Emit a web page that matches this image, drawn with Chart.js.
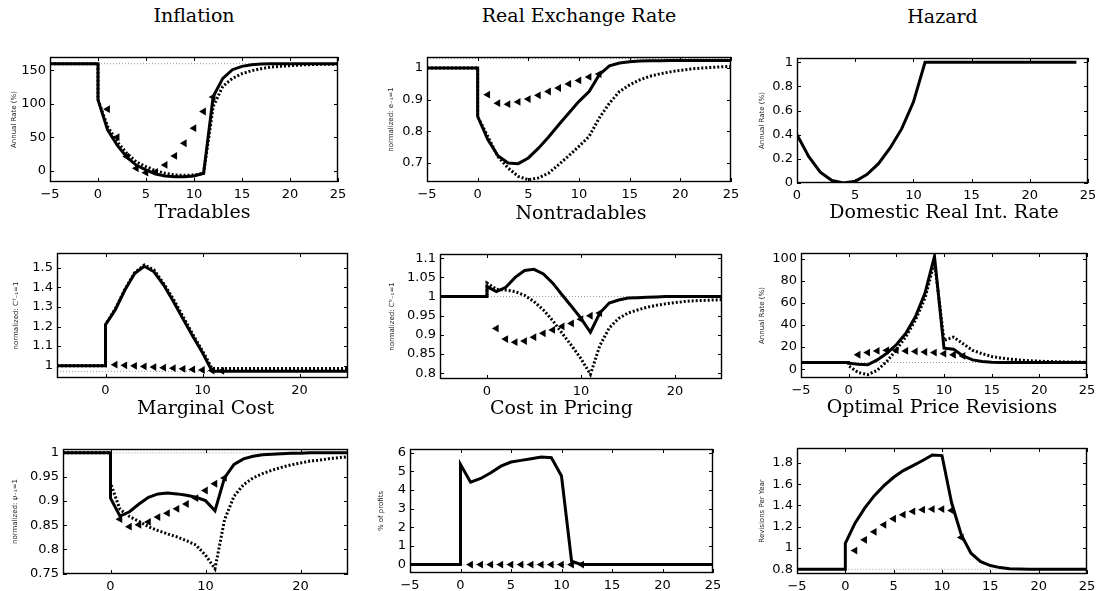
<!DOCTYPE html>
<html>
<head>
<meta charset="utf-8">
<script src="https://cdn.jsdelivr.net/npm/chart.js@4.4.0/dist/chart.umd.min.js"></script>
<style>
  body { margin: 0; background: #fff; width: 1099px; height: 591px; position: relative; overflow: hidden; }
  canvas { position: absolute; }
  .ttl { position: absolute; font-family: "DejaVu Serif", serif; font-size: 19px; color: #000;
         transform: translate(-50%, -50%); white-space: nowrap; }
</style>
</head>
<body>
<script>
// values are for periods 0..25 unless noted; "Pre" is the level before the shock (periods -5..0)
// marks are the triangle series for periods 1..12

// Inflation
const inflPre = 160;
const inflSolid = [106, 61, 38, 20, 8, 1, -5, -8, -9, -9, -8, -4, 111, 138, 151, 156, 158.5, 159.5, 160, 160, 160, 160, 160, 160, 160, 160];
const inflDotted = [106, 66, 43, 26, 13, 6, 0, -4, -6.5, -7, -6.5, -4, 96, 126, 138, 145, 149.5, 152.5, 155, 156, 157, 158, 158.5, 159, 159, 159.5];
const inflMarks = [92, 50, 21, 3.5, -3, -2, 8.5, 22, 41, 63.5, 88.5, 110];
const inflRef = 160;

// Real exchange rate
const rerPre = 1;
const rerSolid = [0.847, 0.774, 0.723, 0.70, 0.698, 0.716, 0.747, 0.782, 0.821, 0.858, 0.895, 0.926, 0.979, 1.007, 1.016, 1.02, 1.022, 1.023, 1.023, 1.024, 1.024, 1.024, 1.024, 1.024, 1.024, 1.024];
const rerDotted = [0.847, 0.784, 0.72, 0.684, 0.658, 0.647, 0.653, 0.668, 0.695, 0.723, 0.753, 0.784, 0.842, 0.889, 0.926, 0.947, 0.963, 0.974, 0.982, 0.988, 0.993, 0.997, 1.0, 1.002, 1.004, 1.005];
const rerMarks = [0.916, 0.889, 0.886, 0.893, 0.902, 0.914, 0.926, 0.937, 0.95, 0.961, 0.972, 0.981];
const rerRef = 1.03;

// Hazard (periods 0..24)
const hazard = [0.4, 0.22, 0.09, 0.02, 0, 0.015, 0.07, 0.16, 0.29, 0.45, 0.67, 1, 1, 1, 1, 1, 1, 1, 1, 1, 1, 1, 1, 1, 1];

// Tradables
const trPre = 1;
const trSolid = [1.21, 1.285, 1.387, 1.471, 1.508, 1.48, 1.412, 1.328, 1.238, 1.15, 1.066, 0.971, 0.971, 0.971, 0.971, 0.971, 0.971, 0.971, 0.971, 0.971, 0.971, 0.971, 0.971, 0.971, 0.971, 0.971];
const trDotted = [1.21, 1.29, 1.39, 1.475, 1.515, 1.49, 1.42, 1.34, 1.25, 1.16, 1.075, 0.985, 0.985, 0.985, 0.985, 0.985, 0.985, 0.985, 0.985, 0.985, 0.985, 0.985, 0.985, 0.985, 0.985, 0.985];
const trMarks = [1.005, 1.002, 0.999, 0.996, 0.993, 0.99, 0.987, 0.984, 0.981, 0.978, 0.975, 0.973];
const trRef = 0.971;

// Nontradables
const ntPre = 1;
const ntSolid = [1.026, 1.013, 1.024, 1.05, 1.068, 1.071, 1.059, 1.035, 1.004, 0.974, 0.943, 0.907, 0.957, 0.983, 0.991, 0.996, 0.997, 0.998, 0.999, 1, 1, 1, 1, 1, 1, 1];
const ntDotted = [1.035, 1.019, 1.017, 1.013, 1.003, 0.987, 0.965, 0.937, 0.904, 0.872, 0.838, 0.797, 0.872, 0.918, 0.943, 0.957, 0.965, 0.972, 0.977, 0.981, 0.984, 0.987, 0.989, 0.99, 0.991, 0.992];
const ntMarks = [0.917, 0.889, 0.881, 0.884, 0.894, 0.904, 0.913, 0.922, 0.93, 0.941, 0.95, 0.957];
const ntRef = 1;

// Domestic real interest rate
const drPre = 6;
const drSolid = [5.4, 4.5, 3.9, 8.4, 14.4, 22, 32.4, 47.4, 68.5, 102, 19, 18, 12, 8.4, 6.9, 6.3, 6.1, 6, 6, 6, 6, 6, 6, 6, 6, 6];
const drDotted = [3, -3, -5, -1, 7, 17.4, 29.4, 44.4, 64, 97, 26, 29, 23, 17, 14, 11.5, 10, 9, 8.2, 7.6, 7.2, 6.9, 6.7, 6.5, 6.4, 6.3];
const drMarks = [13, 15, 16.5, 17, 17, 16.5, 16, 15.5, 15, 14, 13, 12];
const drRef = 6;

// Marginal cost
const mcPre = 1;
const mcSolid = [0.906, 0.869, 0.878, 0.894, 0.908, 0.915, 0.917, 0.915, 0.912, 0.908, 0.901, 0.88, 0.948, 0.976, 0.9875, 0.993, 0.996, 0.997, 0.998, 0.999, 0.999, 1, 1, 1, 1, 1];
const mcDotted = [0.9375, 0.883, 0.868, 0.858, 0.847, 0.839, 0.832, 0.826, 0.818, 0.809, 0.788, 0.76, 0.861, 0.91, 0.934, 0.948, 0.957, 0.964, 0.97, 0.975, 0.979, 0.983, 0.985, 0.988, 0.99, 0.992];
const mcMarks = [0.8625, 0.847, 0.851, 0.857, 0.867, 0.875, 0.884, 0.894, 0.906, 0.922, 0.936, 0.948];
const mcRef = 1;

// Cost in pricing
const cpPre = 0;
const cpSolid = [5.37, 4.42, 4.62, 4.93, 5.28, 5.5, 5.59, 5.68, 5.77, 5.73, 4.75, 0.18, 0, 0, 0, 0, 0, 0, 0, 0, 0, 0, 0, 0, 0, 0];
const cpMarks = [0, 0, 0, 0, 0, 0, 0, 0, 0, 0, 0, 0];
const cpRef = 0;

// Optimal price revisions
const prPre = 0.8;
const prSolid = [1.045, 1.234, 1.375, 1.492, 1.586, 1.665, 1.728, 1.775, 1.822, 1.875, 1.869, 1.423, 1.124, 0.951, 0.872, 0.835, 0.816, 0.806, 0.803, 0.801, 0.8, 0.8, 0.8, 0.8, 0.8, 0.8];
const prMarks = [0.976, 1.077, 1.152, 1.218, 1.275, 1.313, 1.344, 1.36, 1.366, 1.366, 1.353, 1.10];
const prRef = 0.8;

// tick labels
const xTicksFull = [-5, 0, 5, 10, 15, 20, 25];
const xTicksTen = [0, 10, 20];
const xTicksHazard = [0, 5, 10, 15, 20, 25];

Chart.defaults.font.family = '"DejaVu Sans", sans-serif';
Chart.defaults.color = '#000';

function withPre(pre, vals) {
  const pts = [];
  if (pre !== null) for (let t = -5; t <= 0; t++) pts.push({ x: t, y: pre });
  vals.forEach((v, i) => pts.push({ x: i, y: v }));
  return pts;
}
function marks(vals) {
  return vals.map((v, i) => ({ x: i + 1, y: v }));
}

function solidSet(data) {
  return { data, borderColor: '#000', borderWidth: 3, pointRadius: 0, tension: 0, order: 2 };
}
function dottedSet(data) {
  return { data, borderColor: '#000', borderWidth: 3, borderDash: [2, 2], borderCapStyle: 'butt', pointRadius: 0, tension: 0, order: 3 };
}
function markSet(data) {
  return { data, showLine: false, pointStyle: 'triangle', rotation: 270, pointRadius: 4.5,
           pointBackgroundColor: '#000', pointBorderColor: '#000', pointBorderWidth: 0, order: 1 };
}
function refSet(v, from) {
  return { data: [{ x: from, y: v }, { x: 25, y: v }], borderColor: '#9a9a9a', borderWidth: 1,
           borderDash: [1, 2], pointRadius: 0, order: 5 };
}

const fmt = v => (Math.round(v * 1000) / 1000).toString().replace('-', '\u2212');

// MATLAB-style box with inward tick marks on all four sides
const matlabBox = {
  id: 'matlabBox',
  afterDatasetsDraw(chart) {
    const { ctx, chartArea: a, scales: { x, y } } = chart;
    ctx.save();
    ctx.strokeStyle = '#000';
    ctx.lineWidth = 1;
    ctx.beginPath();
    x.ticks.forEach(t => {
      const px = Math.round(x.getPixelForValue(t.value)) + 0.5;
      ctx.moveTo(px, a.bottom); ctx.lineTo(px, a.bottom - 4);
      ctx.moveTo(px, a.top); ctx.lineTo(px, a.top + 4);
    });
    y.ticks.forEach(t => {
      const py = Math.round(y.getPixelForValue(t.value)) + 0.5;
      ctx.moveTo(a.left, py); ctx.lineTo(a.left + 4, py);
      ctx.moveTo(a.right, py); ctx.lineTo(a.right - 4, py);
    });
    ctx.stroke();
    ctx.lineWidth = 1.4;
    ctx.strokeRect(Math.round(a.left) + 0.5, Math.round(a.top) + 0.5,
                   Math.round(a.right - a.left) - 1, Math.round(a.bottom - a.top) - 1);
    ctx.restore();
  }
};

const panels = [
  { title: 'Inflation', frame: [50, 338, 57, 182], xr: [-5, 25], xt: xTicksFull, yr: [-17, 170], yt: [0, 50, 100, 150],
    yTitle: 'Annual Rate (%)', yd: 36,
    sets: [solidSet(withPre(inflPre, inflSolid)), dottedSet(withPre(inflPre, inflDotted)), markSet(marks(inflMarks)), refSet(inflRef, -5)] },
  { title: 'Real Exchange Rate', frame: [427, 731, 57, 182], xr: [-5, 25], xt: xTicksFull, yr: [0.64, 1.035], yt: [0.7, 0.8, 0.9, 1],
    yTitle: 'normalized: e\u208B\u2081=1', yd: 36,
    sets: [solidSet(withPre(rerPre, rerSolid)), dottedSet(withPre(rerPre, rerDotted)), markSet(marks(rerMarks)), refSet(rerRef, -5)] },
  { title: 'Hazard', frame: [797, 1088, 58, 183], xr: [0, 25], xt: xTicksHazard, yr: [0, 1.035], yt: [0, 0.2, 0.4, 0.6, 0.8, 1],
    yTitle: 'Annual Rate (%)', yd: 35,
    sets: [solidSet(withPre(null, hazard))] },
  { title: 'Tradables', frame: [57, 348, 253, 378], xr: [-5, 25], xt: xTicksTen, yr: [0.937, 1.576], yt: [1, 1.1, 1.2, 1.3, 1.4, 1.5],
    yTitle: 'normalized: C\u1D40\u208B\u2081=1', yd: 41,
    sets: [solidSet(withPre(trPre, trSolid)), dottedSet(withPre(trPre, trDotted)), markSet(marks(trMarks)), refSet(trRef, -5)] },
  { title: 'Nontradables', frame: [440, 722, 254, 379], xr: [-5, 25], xt: xTicksTen, yr: [0.785, 1.111], yt: [0.8, 0.85, 0.9, 0.95, 1, 1.05, 1.1],
    yTitle: 'normalized: C\u1D3A\u208B\u2081=1', yd: 48,
    sets: [solidSet(withPre(ntPre, ntSolid)), dottedSet(withPre(ntPre, ntDotted)), markSet(marks(ntMarks)), refSet(ntRef, -5)] },
  { title: 'Domestic Real Int. Rate', frame: [801, 1087, 253, 378], xr: [-5, 25], xt: xTicksFull, yr: [-8, 105], yt: [0, 20, 40, 60, 80, 100],
    yTitle: 'Annual Rate (%)', yd: 39,
    sets: [solidSet(withPre(drPre, drSolid)), dottedSet([{ x: 0, y: drPre }].concat(withPre(null, drDotted))), markSet(marks(drMarks)), refSet(drRef, -5)] },
  { title: 'Marginal Cost', frame: [63, 348, 449, 574], xr: [-5, 25], xt: xTicksTen, yr: [0.749, 1.008], yt: [0.75, 0.8, 0.85, 0.9, 0.95, 1],
    yTitle: 'normalized: \u03C8\u208B\u2081=1', yd: 48,
    sets: [solidSet(withPre(mcPre, mcSolid)), dottedSet(withPre(mcPre, mcDotted)), markSet(marks(mcMarks)), refSet(mcRef, 0)] },
  { title: 'Cost in Pricing', frame: [410, 713, 449, 573], xr: [-5, 25], xt: xTicksFull, yr: [-0.45, 6.2], yt: [0, 1, 2, 3, 4, 5, 6],
    yTitle: '% of profits', yd: 29,
    sets: [solidSet(withPre(cpPre, cpSolid)), markSet(marks(cpMarks)), refSet(cpRef, 0)] },
  { title: 'Optimal Price Revisions', frame: [797, 1087, 448, 574], xr: [-5, 25], xt: xTicksFull, yr: [0.756, 1.94], yt: [0.8, 1, 1.2, 1.4, 1.6, 1.8],
    yTitle: 'Revisions Per Year', yd: 35,
    sets: [solidSet(withPre(prPre, prSolid)), markSet(marks(prMarks)), refSet(prRef, 0)] }
];

const padL = 54, padT = 10, padR = 14, padB = 26;

panels.forEach(p => {
  const [x0, x1, y0, y1] = p.frame;
  const c = document.createElement('canvas');
  c.width = (x1 - x0) + padL + padR;
  c.height = (y1 - y0) + padT + padB;
  c.style.left = (x0 - padL) + 'px';
  c.style.top = (y0 - padT) + 'px';
  document.body.appendChild(c);

  const t = document.createElement('div');
  t.className = 'ttl';
  t.textContent = p.title;
  t.style.left = ((x0 + x1) / 2) + 'px';
  t.style.top = (y0 - 42) + 'px';
  document.body.appendChild(t);

  new Chart(c, {
    type: 'line',
    data: { datasets: p.sets },
    options: {
      responsive: false,
      animation: false,
      devicePixelRatio: 1,
      layout: { padding: { left: 0, top: padT, right: padR, bottom: 0 } },
      plugins: { legend: { display: false }, tooltip: { enabled: false } },
      scales: {
        x: {
          type: 'linear', min: p.xr[0], max: p.xr[1],
          grid: { display: false, drawTicks: false }, border: { display: false },
          afterBuildTicks: s => { s.ticks = p.xt.map(v => ({ value: v })); },
          afterFit: s => { s.height = padB; s.paddingLeft = 0; s.paddingRight = 0; },
          ticks: { padding: 5, maxRotation: 0, autoSkip: false, callback: fmt, font: { size: 13 } }
        },
        y: {
          type: 'linear', min: p.yr[0], max: p.yr[1],
          grid: { display: false, drawTicks: false }, border: { display: false },
          afterBuildTicks: s => { s.ticks = p.yt.map(v => ({ value: v })); },
          afterFit: s => { s.width = padL; s.paddingTop = 0; s.paddingBottom = 0; },
          ticks: { padding: 4, autoSkip: false, callback: fmt, font: { size: 13 } },
          title: { display: true, text: p.yTitle, font: { size: 7 }, color: '#222',
                   padding: { top: Math.max(0, padL - p.yd - 4.2), bottom: 0 } }
        }
      }
    },
    plugins: [matlabBox]
  });
});
</script>
</body>
</html>
